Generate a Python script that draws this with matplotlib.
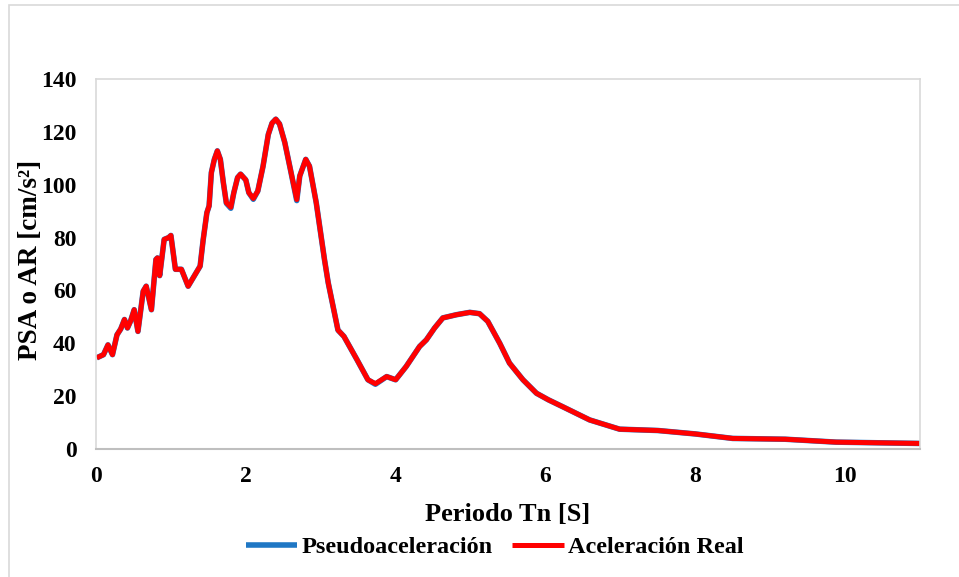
import matplotlib.pyplot as plt
from matplotlib.patches import Rectangle

# Periodo Tn [s]
periodo = [
    0.01, 0.10, 0.16, 0.22, 0.28, 0.33, 0.38, 0.42, 0.46, 0.51, 0.56, 0.63,
    0.67, 0.74, 0.80, 0.82, 0.85, 0.91, 0.97, 1.00, 1.06, 1.14, 1.23, 1.31,
    1.39, 1.43, 1.48, 1.51, 1.54, 1.58, 1.62, 1.66, 1.70, 1.74, 1.80, 1.84,
    1.89, 1.93, 2.00, 2.04, 2.10, 2.16, 2.23, 2.30, 2.35, 2.40, 2.45, 2.52,
    2.59, 2.68, 2.72, 2.80, 2.85, 2.94, 3.05, 3.10, 3.23, 3.31, 3.48, 3.63,
    3.73, 3.88, 4.00, 4.14, 4.32, 4.41, 4.52, 4.63, 4.81, 4.99, 5.12, 5.23,
    5.39, 5.52, 5.70, 5.88, 6.04, 6.23, 6.59, 6.99, 7.50, 8.00, 8.50, 9.20,
    9.88, 11.0,
]

# Pseudoaceleracion [cm/s2]
psa = [
    34.5, 35.7, 39.4, 35.7, 43.2, 45.4, 49.0, 45.8, 48.3, 52.7, 44.5, 59.7,
    61.6, 52.7, 71.7, 72.3, 65.6, 79.3, 80.0, 80.8, 68.0, 68.0, 61.6, 65.4,
    69.2, 79.0, 89.4, 92.0, 104.6, 109.6, 112.8, 109.6, 100.8, 93.0, 91.1, 97.0,
    102.7, 104.0, 101.8, 97.0, 94.5, 97.6, 107.0, 119.0, 123.3, 124.8, 123.0, 116.0,
    106.5, 94.0, 103.3, 109.6, 107.0, 93.2, 71.7, 62.9, 45.0, 42.6, 34.0, 26.2,
    24.5, 27.4, 26.2, 31.2, 38.8, 41.3, 45.8, 49.6, 50.8, 51.7, 51.2, 48.3,
    40.0, 32.5, 26.2, 21.1, 18.6, 16.0, 11.0, 7.5, 7.0, 5.7, 4.0, 3.7,
    2.6, 2.1,
]

# Aceleracion real [cm/s2]
ar = [
    34.5, 35.7, 39.4, 35.7, 43.2, 45.4, 49.0, 45.8, 48.3, 52.7, 44.5, 59.7,
    61.6, 52.7, 71.7, 72.3, 65.6, 79.3, 80.0, 80.8, 68.0, 68.0, 61.6, 65.4,
    69.2, 79.0, 89.4, 92.0, 104.6, 109.6, 112.8, 109.6, 100.8, 93.2, 91.5, 97.0,
    102.7, 104.0, 101.8, 97.0, 94.8, 97.6, 107.0, 119.0, 123.3, 124.8, 123.0, 116.0,
    106.5, 94.4, 103.3, 109.6, 107.0, 93.2, 71.7, 62.9, 45.0, 42.6, 34.0, 26.2,
    24.7, 27.4, 26.2, 31.2, 38.8, 41.3, 45.8, 49.6, 50.8, 51.7, 51.2, 48.3,
    40.0, 32.5, 26.2, 21.1, 18.6, 16.0, 11.0, 7.5, 7.0, 5.7, 4.0, 3.7,
    2.6, 2.1,
]

x_ticks = [0, 2, 4, 6, 8, 10]
y_ticks = [0, 20, 40, 60, 80, 100, 120, 140]

plt.rcParams["font.family"] = ["Liberation Serif", "DejaVu Serif"]
plt.rcParams["font.weight"] = "bold"

fig = plt.figure(figsize=(9.59, 5.77), dpi=100)
ax = fig.add_axes([96 / 959, 1 - 449 / 577, 824 / 959, 370 / 577])

# marco exterior del grafico
fig.patches.append(
    Rectangle((9 / 959, -0.1), 1.2, 1 - 5 / 577 + 0.1, transform=fig.transFigure,
              fill=False, edgecolor="#D9D9D9", linewidth=1.2)
)

ax.plot(periodo, psa, color="#1F77C4", linewidth=4.0, label="Pseudoaceleración",
        solid_joinstyle="round", solid_capstyle="butt")
ax.plot(periodo, ar, color="#FF0000", linewidth=3.6, label="Aceleración Real",
        solid_joinstyle="round", solid_capstyle="butt")

ax.set_xlim(0, 11)
ax.set_ylim(0, 140)
ax.set_xticks(x_ticks)
ax.set_yticks(y_ticks)
ax.tick_params(length=0, labelsize=17)
ax.tick_params(axis="x", pad=12)
ax.tick_params(axis="y", pad=14)
for lbl in ax.get_xticklabels() + ax.get_yticklabels():
    lbl.set_fontweight("bold")

for side in ["top", "right", "left"]:
    ax.spines[side].set_color("#D9D9D9")
    ax.spines[side].set_linewidth(1.2)
ax.spines["bottom"].set_color("#BFBFBF")
ax.spines["bottom"].set_linewidth(1.5)

ax.set_xlabel("Periodo Tn [S]", fontsize=19, fontweight="bold")
ax.set_ylabel("PSA o AR [cm/s²]", fontsize=19.5, fontweight="bold")
ax.xaxis.set_label_coords(0.499, -0.178)
ax.yaxis.set_label_coords(-0.080, 0.51)
ax.xaxis.label.set_va("center")
ax.yaxis.label.set_va("center")

leg = fig.legend(loc="center", bbox_to_anchor=(495 / 959, 1 - 547 / 577), ncol=2,
                 frameon=False, fontsize=17.5, handlelength=2.1, handletextpad=0.2,
                 columnspacing=0.8)
for t in leg.get_texts():
    t.set_fontweight("bold")

fig.savefig("out.png", dpi=100)
